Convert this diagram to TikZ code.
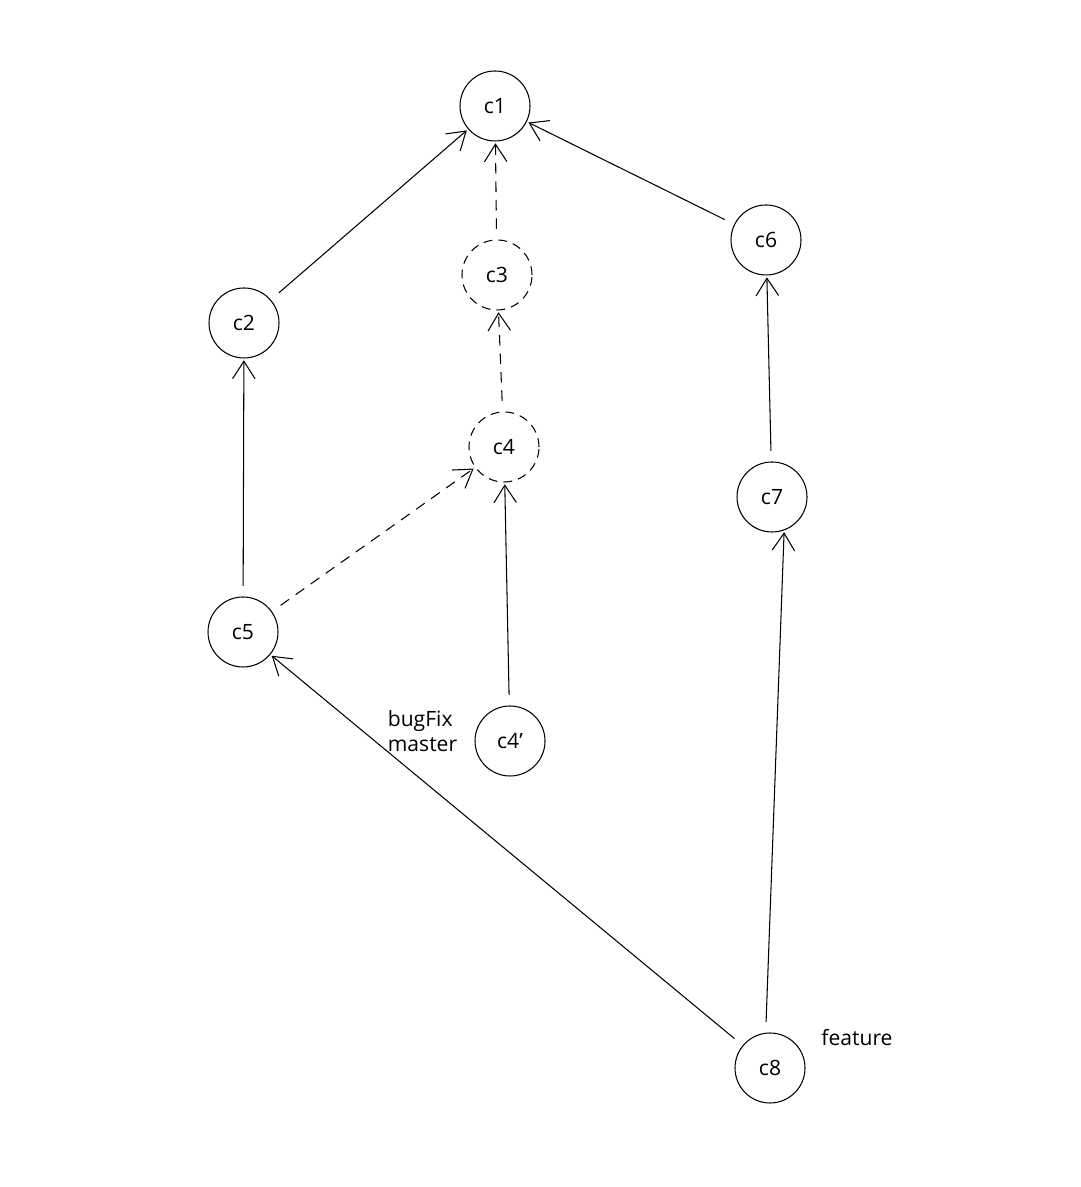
\documentclass[tikz,border=0pt]{standalone}
\usepackage{fontspec}
\setmainfont{Open Sans}
\usetikzlibrary{arrows.meta}
\begin{document}
\begin{tikzpicture}[-{Straight Barb[length=3.5mm,width=4.5mm]},line join=bevel,semithick]
  \tikzstyle{commit}=[circle,draw,solid,minimum size=1.4cm,inner sep=2pt,font=\large]
  \tikzstyle{lost}=[commit,dash pattern=on 5pt off 3.5pt]
  \tikzstyle{branch}=[font=\large,align=left]
  \tikzstyle{lostedge}=[dash pattern=on 6pt off 4.5pt]
  \useasboundingbox (0,0) rectangle (21.6,23.74);
  \node[commit] (C_1) at (9.9,21.62)  {c1};
  \node[lost]   (C_3) at (9.94,18.24) {c3};
  \node[lost]   (C_4) at (10.08,14.8) {c4};
  \node[commit] (C_2) at (4.88,17.28) {c2};
  \node[commit] (C_6) at (15.32,18.94) {c6};
  \node[commit] (C_7) at (15.44,13.8) {c7};
  \node[commit] (C_5) at (4.86,11.1)  {c5};
  \node[commit] (C_4p) at (10.2,8.92) {c4'};
  \node[commit] (C_8) at (15.4,2.38)  {c8};
  \node[branch] (bugfix) at (8.45,9.12) {bugFix\\master};
  \node[branch] (feature) at (17.14,2.98) {feature};
  \path[shorten <=6pt,shorten >=1pt]
        (C_2) edge (C_1)
        (C_3) edge [lostedge] (C_1)
        (C_6) edge (C_1)
        (C_4) edge [lostedge] (C_3)
        (C_5) edge (C_2)
        (C_5) edge [lostedge] (C_4)
        (C_4p) edge (C_4)
        (C_7) edge (C_6)
        (C_8) edge (C_5)
        (C_8.97) edge (C_7.-70);
\end{tikzpicture}
\end{document}
